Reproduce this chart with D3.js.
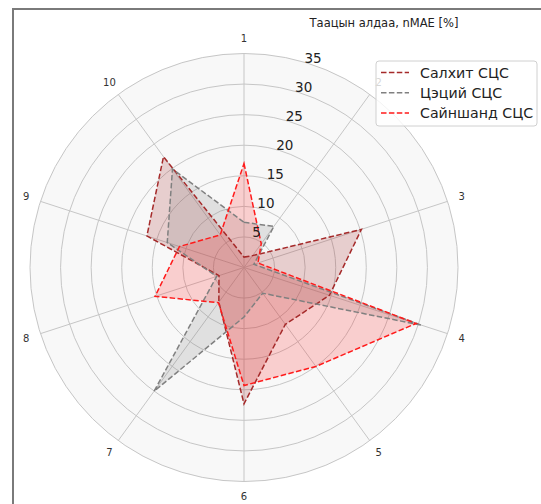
<!DOCTYPE html>
<html>
<head>
<meta charset="utf-8">
<script src="https://cdn.jsdelivr.net/npm/d3@7/dist/d3.min.js"></script>
<style>
  html, body { margin: 0; padding: 0; background: #ffffff; }
  svg { display: block; font-family: "DejaVu Sans", sans-serif; }
</style>
</head>
<body>
<svg id="chart" width="541" height="504"></svg>
<script>
// Station axes (cases 1..10) and nMAE values per station
const axisLabels = ["1", "2", "3", "4", "5", "6", "7", "8", "9", "10"];
const radialTicks = [5, 10, 15, 20, 25, 30, 35];
const seriesNames = ["Салхит СЦС", "Цэций СЦС", "Сайншанд СЦС"];
const salkhit  = [1.7, 2.4, 20.2, 14.7, 11.5, 22.3, 7.0, 4.3, 16.7, 22.4];
const tsetsii  = [7.4, 8.3, 1.7, 30.6, 5.2, 8.1, 25.0, 4.7, 13.2, 19.9];
const sainshand = [17.0, 4.8, 2.4, 29.6, 20.0, 19.3, 7.1, 15.3, 11.1, 6.6];
const titleText = "Таацын алдаа, nMAE [%]";

const lineColors = ["#a52a2a", "#808080", "#ff1a1a"];
const fillColors = ["#a52a2a", "#808080", "#ff2a2a"];

const svg = d3.select("#chart");
const cx = 244, cy = 267.5, R = 214;

// outer frame
svg.append("rect")
  .attr("x", 13).attr("y", 9)
  .attr("width", 600).attr("height", 600)
  .attr("fill", "none").attr("stroke", "#7a7a7a").attr("stroke-width", 2);

const g = svg.append("g").attr("transform", `translate(${cx},${cy})`);

const r = d3.scaleLinear().domain([0, 35]).range([0, R]);
const ang = d3.scaleLinear().domain([0, axisLabels.length]).range([0, 2 * Math.PI]);

// polar background
g.append("circle").attr("r", r(35)).attr("fill", "#f8f8f8");

// circular grid
g.selectAll("circle.grid").data(radialTicks).join("circle")
  .attr("class", "grid")
  .attr("r", d => r(d))
  .attr("fill", "none").attr("stroke", "#c6c6c6").attr("stroke-width", 1);

// spokes
g.selectAll("line.spoke").data(axisLabels).join("line")
  .attr("class", "spoke")
  .attr("x1", 0).attr("y1", 0)
  .attr("x2", (d, i) => r(35) * Math.sin(ang(i)))
  .attr("y2", (d, i) => -r(35) * Math.cos(ang(i)))
  .attr("stroke", "#c6c6c6").attr("stroke-width", 1);

// category labels around the circle
g.selectAll("text.cat").data(axisLabels).join("text")
  .attr("class", "cat")
  .attr("x", (d, i) => (R + 15) * Math.sin(ang(i)))
  .attr("y", (d, i) => -(R + 15) * Math.cos(ang(i)))
  .attr("text-anchor", "middle").attr("dominant-baseline", "central")
  .attr("font-size", 10).attr("fill", "#333")
  .text(d => d);

// series polygons
const data = [salkhit, tsetsii, sainshand];
const line = d3.lineRadial()
  .angle((d, i) => ang(i))
  .radius(d => r(d))
  .curve(d3.curveLinearClosed);

data.forEach((vals, k) => {
  g.append("path")
    .attr("d", line(vals))
    .attr("fill", fillColors[k]).attr("fill-opacity", 0.2)
    .attr("stroke", "none");
});
data.forEach((vals, k) => {
  g.append("path")
    .attr("d", line(vals))
    .attr("fill", "none")
    .attr("stroke", lineColors[k]).attr("stroke-width", 1.5)
    .attr("stroke-dasharray", "5.5,2.4");
});

// radial tick labels along 18°
const rl = Math.PI / 10;
g.selectAll("text.rt").data(radialTicks).join("text")
  .attr("class", "rt")
  .attr("x", d => r(d) * Math.sin(rl) + 3)
  .attr("y", d => -r(d) * Math.cos(rl) - 6)
  .attr("text-anchor", "middle").attr("dominant-baseline", "central")
  .attr("font-size", 13.5).attr("fill", "#222")
  .text(d => d);

// title
svg.append("text")
  .attr("x", 384).attr("y", 27)
  .attr("text-anchor", "middle")
  .attr("font-size", 11.5).attr("fill", "#222")
  .text(titleText);

// legend
const lg = svg.append("g").attr("transform", "translate(376,61)");
lg.append("rect")
  .attr("width", 161).attr("height", 65).attr("rx", 3)
  .attr("fill", "#ffffff").attr("fill-opacity", 0.8)
  .attr("stroke", "#d0d0d0").attr("stroke-width", 1);
seriesNames.forEach((name, k) => {
  const y = 11.5 + k * 20.2;
  lg.append("line")
    .attr("x1", 5).attr("x2", 33).attr("y1", y).attr("y2", y)
    .attr("stroke", lineColors[k]).attr("stroke-width", 1.5)
    .attr("stroke-dasharray", "5.5,2.4");
  lg.append("text")
    .attr("x", 44).attr("y", y)
    .attr("dominant-baseline", "central")
    .attr("font-size", 14.2).attr("fill", "#222")
    .text(name);
});
</script>
</body>
</html>
